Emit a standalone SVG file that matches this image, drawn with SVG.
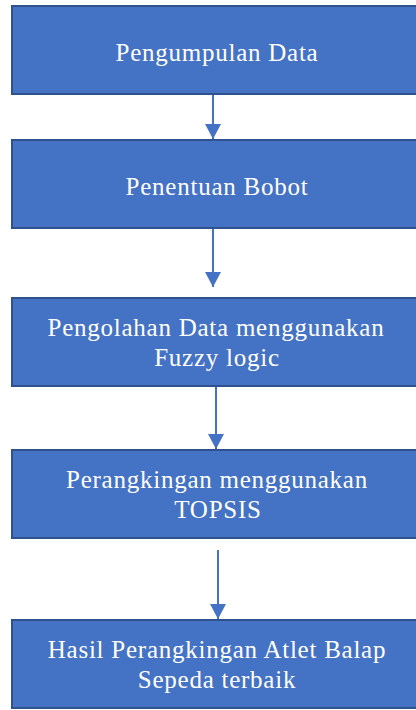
<svg xmlns="http://www.w3.org/2000/svg" width="416" height="710" viewBox="0 0 416 710">
  <style>
    .box { fill: #4472C4; stroke: #2F528F; stroke-width: 2; }
    .label { font-family: "Liberation Serif", "Times New Roman", serif; font-size: 25px; fill: #FFFFFF; text-anchor: middle; letter-spacing: 0.75px; }
    .flow { stroke: #4472C4; stroke-width: 2; fill: none; marker-end: url(#head); }
  </style>
  <defs>
    <marker id="head" markerUnits="userSpaceOnUse" markerWidth="16" markerHeight="16" refX="15" refY="8" orient="auto">
      <path d="M0,0 L15,8 L0,16 Z" fill="#4472C4"/>
    </marker>
  </defs>
  <rect width="416" height="710" fill="#FFFFFF"/>

  <g id="connectors">
    <line class="flow" x1="213" y1="94" x2="213" y2="139"/>
    <line class="flow" x1="213" y1="228" x2="213" y2="287"/>
    <line class="flow" x1="216" y1="386" x2="216" y2="449"/>
    <line class="flow" x1="218" y1="550" x2="218" y2="619"/>
  </g>

  <g id="pengumpulan-data">
    <rect class="box" x="12" y="6" width="412" height="88"/>
    <text class="label" x="217" y="61">Pengumpulan Data</text>
  </g>

  <g id="penentuan-bobot">
    <rect class="box" x="12" y="140" width="412" height="88"/>
    <text class="label" x="217" y="195">Penentuan Bobot</text>
  </g>

  <g id="pengolahan-data">
    <rect class="box" x="12" y="298" width="412" height="88"/>
    <text class="label" x="216" y="336">Pengolahan Data menggunakan</text>
    <text class="label" x="217" y="366">Fuzzy logic</text>
  </g>

  <g id="perangkingan-topsis">
    <rect class="box" x="12" y="450" width="412" height="88"/>
    <text class="label" x="217" y="488">Perangkingan menggunakan</text>
    <text class="label" x="218" y="518">TOPSIS</text>
  </g>

  <g id="hasil-perangkingan">
    <rect class="box" x="12" y="620" width="412" height="88"/>
    <text class="label" x="217" y="658">Hasil Perangkingan Atlet Balap</text>
    <text class="label" x="217" y="688">Sepeda terbaik</text>
  </g>
</svg>
